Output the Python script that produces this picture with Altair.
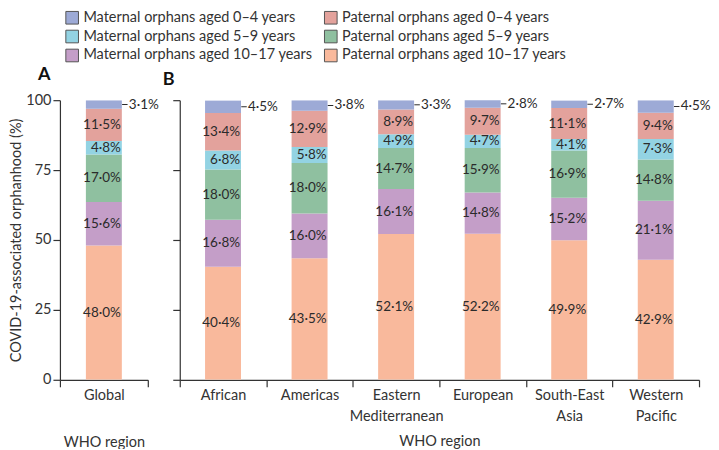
import altair as alt
import pandas as pd

regions_a = ["Global"]
regions_b = ["African", "Americas", "Eastern Mediterranean", "European",
             "South-East Asia", "Western Pacific"]
regions = regions_a + regions_b

# legend order (column-major: maternal column, then paternal column)
series = ["Maternal orphans aged 0–4 years", "Maternal orphans aged 5–9 years",
          "Maternal orphans aged 10–17 years", "Paternal orphans aged 0–4 years",
          "Paternal orphans aged 5–9 years", "Paternal orphans aged 10–17 years"]
colors = ["#9daad6", "#93d3e3", "#c49ec8", "#e3a29c", "#8fc0a0", "#f9b99c"]

pat_10_17 = [48.0, 40.4, 43.5, 52.1, 52.2, 49.9, 42.9]
mat_10_17 = [15.6, 16.8, 16.0, 16.1, 14.8, 15.2, 21.1]
pat_5_9 = [17.0, 18.0, 18.0, 14.7, 15.9, 16.9, 14.8]
mat_5_9 = [4.8, 6.8, 5.8, 4.9, 4.7, 4.1, 7.3]
pat_0_4 = [11.5, 13.4, 12.9, 8.9, 9.7, 11.1, 9.4]
mat_0_4 = [3.1, 4.5, 3.8, 3.3, 2.8, 2.7, 4.5]

# bottom to top
stack_series = [series[5], series[2], series[4], series[1], series[3], series[0]]
stack_values = [pat_10_17, mat_10_17, pat_5_9, mat_5_9, pat_0_4, mat_0_4]

rows = []
for ri, reg in enumerate(regions):
    for oi, (s, vals) in enumerate(zip(stack_series, stack_values)):
        v = vals[ri]
        rows.append({"region": reg, "series": s, "order": oi, "value": v,
                     "label": f"{v:.1f}".replace(".", "·") + "%"})
df = pd.DataFrame(rows)

FONT = "Lato"
INK = "#2b2b2b"
H = 280


def panel(sub, domain, width, first, letter, letter_dx, xtitle_pad):
    base = alt.Chart(sub).transform_stack(
        stack="value", groupby=["region"],
        sort=[alt.SortField("order", order="ascending")], as_=["y0", "y1"]
    ).transform_calculate(mid="(datum.y0 + datum.y1) / 2")

    xenc = alt.X("region:N",
                 scale=alt.Scale(domain=domain, paddingInner=0, paddingOuter=0),
                 axis=alt.Axis(title="WHO region", labelAngle=0, tickBand="extent",
                               labelExpr="split(datum.label, ' ')",
                               labelLineHeight=21, titlePadding=xtitle_pad))
    yscale = alt.Scale(domain=[0, 100], nice=False)
    if first:
        yaxis = alt.Axis(values=[0, 25, 50, 75, 100],
                         title="COVID-19-associated orphanhood (%)")
    else:
        yaxis = alt.Axis(values=[0, 25, 50, 75, 100], labels=False, title=None)

    bars = base.mark_bar(size=36, clip=True).encode(
        x=xenc,
        y=alt.Y("y0:Q", scale=yscale, axis=yaxis),
        y2="y1:Q",
        color=alt.Color("series:N", scale=alt.Scale(domain=series, range=colors),
                        legend=alt.Legend(title=None, orient="none", legendX=5,
                                          legendY=-90, columns=2, padding=0,
                                          symbolType="square", symbolSize=160,
                                          symbolStrokeColor="#555",
                                          symbolStrokeWidth=1, labelFontSize=14.5,
                                          labelColor="#333", rowPadding=1,
                                          columnPadding=9, labelLimit=400)),
    )
    inner = base.transform_filter("datum.order < 5").mark_text(
        align="right", dx=17, fontSize=13.5, color=INK, baseline="middle"
    ).encode(x=alt.X("region:N"), y=alt.Y("mid:Q"), text="label:N")
    leader = base.transform_filter("datum.order == 5").mark_tick(
        orient="horizontal", size=5.5, thickness=1, xOffset=21, color=INK, opacity=1
    ).encode(x=alt.X("region:N"), y=alt.Y("mid:Q"))
    outer = base.transform_filter("datum.order == 5").mark_text(
        align="left", dx=25, fontSize=13.5, color=INK, baseline="middle"
    ).encode(x=alt.X("region:N"), y=alt.Y("mid:Q"), text="label:N")

    return alt.layer(bars, inner, leader, outer).properties(
        width=width, height=H,
        title=alt.TitleParams(letter, anchor="start", frame="group", dx=letter_dx,
                              offset=8, fontSize=18, fontWeight="bold",
                              color="#111"),
    )


pa = panel(df[df.region.isin(regions_a)], regions_a, 88, True, "A", -22, 33)
pb = panel(df[df.region.isin(regions_b)], regions_b, 520, False, "B", -17, 11)

chart = alt.hconcat(pa, pb, spacing=32, bounds="flush").resolve_scale(
    x="independent", y="independent", color="shared"
).properties(
    padding={"top": 2, "left": 0, "right": 0, "bottom": 0}
).configure(font=FONT).configure_view(stroke=None).configure_axis(
    domainColor="#333", tickColor="#333", labelColor="#333", titleColor="#333",
    domainWidth=1.2, tickWidth=1.2, tickSize=7, labelFontSize=14.5, titleFontSize=14.5,
    titleFontWeight="normal", labelPadding=2, titlePadding=2, grid=False,
    labelFont=FONT, titleFont=FONT
)

chart.save("out.html", embed_options={"renderer": "svg", "actions": False})
